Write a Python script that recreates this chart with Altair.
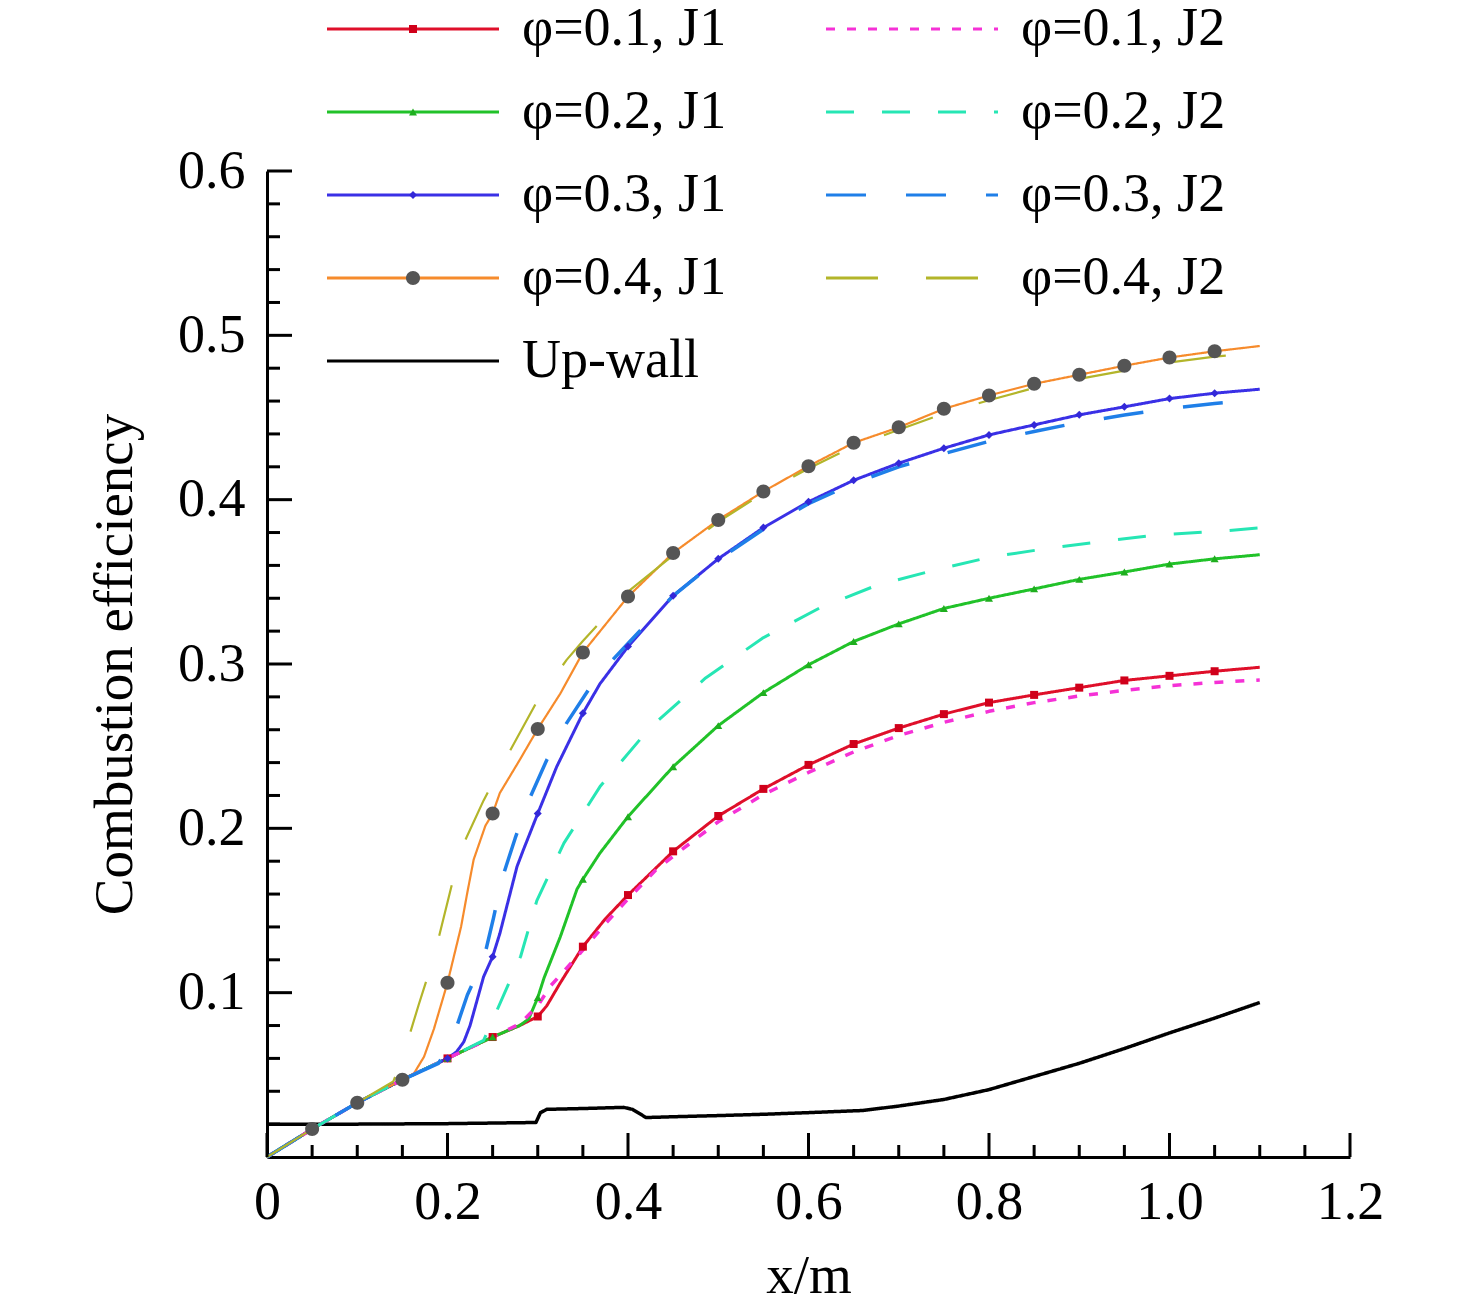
import altair as alt
import pandas as pd

FONT = "Liberation Serif"
FS_TICK = 54
FS_TITLE = 55
FS_LEG = 54
W, H = 1083, 986

# ---------------- data ----------------
names = ["\u03c6=0.1, J1", "\u03c6=0.2, J1", "\u03c6=0.3, J1", "\u03c6=0.4, J1", "Up-wall",
         "\u03c6=0.1, J2", "\u03c6=0.2, J2", "\u03c6=0.3, J2", "\u03c6=0.4, J2"]

x_p1_j1 = [0, 0.05, 0.1, 0.15, 0.2, 0.25, 0.28, 0.3, 0.31, 0.325, 0.35, 0.375, 0.4,
           0.45, 0.5, 0.55, 0.6, 0.65, 0.7, 0.75, 0.8, 0.85, 0.9, 0.95, 1.0, 1.05, 1.1]
y_p1_j1 = [0, 0.017, 0.033, 0.047, 0.060, 0.073, 0.080, 0.0855, 0.092, 0.106, 0.128, 0.145, 0.1594,
           0.186, 0.2075, 0.224, 0.2386, 0.2513, 0.261, 0.2695, 0.2765, 0.2812, 0.2856, 0.290, 0.2928, 0.2956, 0.2980]

x_p1_j2 = [0, 0.05, 0.1, 0.15, 0.2, 0.25, 0.28, 0.3, 0.314, 0.347, 0.375, 0.4, 0.431,
           0.45, 0.5, 0.55, 0.6, 0.65, 0.7, 0.75, 0.8, 0.85, 0.9, 0.95, 1.0, 1.05, 1.1]
y_p1_j2 = [0, 0.017, 0.033, 0.047, 0.060, 0.073, 0.081, 0.092, 0.104, 0.124, 0.142, 0.157, 0.1747,
           0.183, 0.204, 0.2205, 0.234, 0.2465, 0.2565, 0.2645, 0.2712, 0.2765, 0.2805, 0.284, 0.2868, 0.2888, 0.2903]

x_p2_j1 = [0, 0.05, 0.1, 0.15, 0.2, 0.25, 0.28, 0.29, 0.3, 0.307, 0.325, 0.3435, 0.35, 0.369, 0.4,
           0.45, 0.5, 0.55, 0.6, 0.65, 0.7, 0.75, 0.8, 0.85, 0.9, 0.95, 1.0, 1.05, 1.1]
y_p2_j1 = [0, 0.017, 0.033, 0.047, 0.060, 0.073, 0.080, 0.084, 0.097, 0.109, 0.134, 0.163, 0.169, 0.185, 0.2071,
           0.2375, 0.2625, 0.2826, 0.2995, 0.3137, 0.3244, 0.3338, 0.340, 0.3457, 0.3515, 0.356, 0.3608, 0.3640, 0.3665]

x_p2_j2 = [0, 0.05, 0.1, 0.15, 0.2, 0.24, 0.255, 0.281, 0.299, 0.329, 0.369, 0.424,
           0.486, 0.549, 0.612, 0.676, 0.739, 0.801, 0.861, 0.924, 0.988, 1.051, 1.1]
y_p2_j2 = [0, 0.017, 0.033, 0.047, 0.060, 0.071, 0.0895, 0.122, 0.156, 0.191, 0.2254, 0.261,
           0.2915, 0.3157, 0.334, 0.348, 0.357, 0.365, 0.370, 0.3745, 0.3786, 0.3806, 0.3828]

x_p3_j1 = [0, 0.05, 0.1, 0.15, 0.2, 0.21, 0.218, 0.225, 0.24, 0.25, 0.258, 0.277, 0.284, 0.3, 0.321, 0.35,
           0.369, 0.4, 0.45, 0.5, 0.55, 0.6, 0.65, 0.7, 0.75, 0.8, 0.85, 0.9, 0.95, 1.0, 1.05, 1.1]
y_p3_j1 = [0, 0.017, 0.033, 0.047, 0.060, 0.064, 0.070, 0.080, 0.1097, 0.1219, 0.136, 0.1767, 0.1868, 0.209,
           0.2375, 0.270, 0.288, 0.3106, 0.3415, 0.364, 0.383, 0.3987, 0.4118, 0.4222, 0.4313, 0.4394,
           0.4455, 0.4516, 0.4565, 0.4615, 0.4648, 0.4672]

x_p3_j2 = [0, 0.05, 0.1, 0.15, 0.19, 0.205, 0.222, 0.24, 0.251, 0.26, 0.275, 0.29, 0.31, 0.332, 0.363,
           0.383, 0.4, 0.45, 0.5, 0.55, 0.6, 0.65, 0.7, 0.75, 0.8, 0.85, 0.9, 0.95, 1.0, 1.05, 1.1]
y_p3_j2 = [0, 0.017, 0.033, 0.047, 0.057, 0.071, 0.0986, 0.120, 0.1455, 0.1686, 0.194, 0.217, 0.2416,
           0.264, 0.290, 0.3025, 0.3125, 0.3415, 0.3635, 0.382, 0.3975, 0.410, 0.420, 0.428, 0.4355,
           0.4415, 0.447, 0.4515, 0.4555, 0.4585, 0.4610]

x_p4_j1 = [0, 0.05, 0.1, 0.15, 0.163, 0.174, 0.185, 0.2, 0.215, 0.222, 0.229, 0.242, 0.25, 0.258, 0.28,
           0.3, 0.325, 0.35, 0.4, 0.45, 0.5, 0.55, 0.6, 0.65, 0.7, 0.75, 0.8, 0.85, 0.9, 0.95, 1.0, 1.05, 1.1]
y_p4_j1 = [0, 0.017, 0.033, 0.047, 0.051, 0.061, 0.078, 0.106, 0.140, 0.161, 0.181, 0.2016, 0.209, 0.2215,
           0.2416, 0.2605, 0.282, 0.307, 0.341, 0.3676, 0.3877, 0.405, 0.4204, 0.4346, 0.444, 0.4553,
           0.4634, 0.4705, 0.476, 0.4815, 0.4865, 0.4903, 0.4935]

x_p4_j2 = [0, 0.05, 0.1, 0.14, 0.15, 0.168, 0.185, 0.2, 0.214, 0.24, 0.268, 0.3, 0.332, 0.35, 0.4, 0.443,
           0.5, 0.55, 0.6, 0.65, 0.7, 0.75, 0.8, 0.85, 0.9, 0.95, 1.0, 1.05, 1.1]
y_p4_j2 = [0, 0.017, 0.033, 0.046, 0.060, 0.0925, 0.1217, 0.155, 0.186, 0.217, 0.246, 0.278, 0.3025,
           0.314, 0.344, 0.363, 0.3865, 0.404, 0.419, 0.4325, 0.4425, 0.4525, 0.4605, 0.468, 0.4735,
           0.4785, 0.4835, 0.487, 0.4895]

x_wall = [0, 0.1, 0.2, 0.298, 0.303, 0.31, 0.35, 0.395, 0.405, 0.42, 0.45, 0.5, 0.55, 0.6, 0.66,
          0.7, 0.75, 0.8, 0.85, 0.9, 0.95, 1.0, 1.05, 1.1]
y_wall = [0.020, 0.020, 0.0203, 0.021, 0.027, 0.029, 0.0295, 0.0302, 0.029, 0.0240, 0.0245, 0.0252,
          0.026, 0.027, 0.0283, 0.031, 0.035, 0.041, 0.049, 0.057, 0.066, 0.0755, 0.0845, 0.094]

x_major = [0, 0.2, 0.4, 0.6, 0.8, 1.0, 1.2]
x_minor = [0.05, 0.1, 0.15, 0.25, 0.3, 0.35, 0.45, 0.5, 0.55, 0.65, 0.7, 0.75,
           0.85, 0.9, 0.95, 1.05, 1.1, 1.15]
y_major = [0.1, 0.2, 0.3, 0.4, 0.5, 0.6]
y_minor = [0.02, 0.04, 0.06, 0.08, 0.12, 0.14, 0.16, 0.18, 0.22, 0.24, 0.26, 0.28,
           0.32, 0.34, 0.36, 0.38, 0.42, 0.44, 0.46, 0.48, 0.52, 0.54, 0.56, 0.58]

# ---------------- styles (same order as names) ----------------
line_colors = ["#df0f2a", "#21c229", "#3a30e6", "#f68b2c", "#000000",
               "#f531d6", "#26e6b4", "#1f7fe8", "#b3b52a"]
line_dashes = [[1, 0], [1, 0], [1, 0], [1, 0], [1, 0], [9, 12], [28, 28], [40, 40], [52, 48]]
line_widths = [3, 3, 3, 2.2, 3.5, 3.5, 3, 3.5, 2.2]
BIG_CIRCLE = "M-1.75,0A1.75,1.75,0,1,1,1.75,0A1.75,1.75,0,1,1,-1.75,0Z"
mk_shapes = ["square", "triangle-up", "diamond", BIG_CIRCLE, "circle",
             "circle", "circle", "circle", "circle"]
mk_fills = ["#d0001a", "#1fae1f", "#3328d8", "#555555", "transparent",
            "transparent", "transparent", "transparent", "transparent"]
MK_SIZE = 64

series_xy = {
    names[0]: (x_p1_j1, y_p1_j1), names[1]: (x_p2_j1, y_p2_j1),
    names[2]: (x_p3_j1, y_p3_j1), names[3]: (x_p4_j1, y_p4_j1),
    names[4]: (x_wall, y_wall),
    names[5]: (x_p1_j2, y_p1_j2), names[6]: (x_p2_j2, y_p2_j2),
    names[7]: (x_p3_j2, y_p3_j2), names[8]: (x_p4_j2, y_p4_j2),
}
draw_order = [4, 0, 1, 2, 3, 5, 6, 7, 8]

rows = []
for nm in names:
    xs, ys = series_xy[nm]
    for a, b in zip(xs, ys):
        rows.append({"x": a, "y": b, "series": nm})
df = pd.DataFrame(rows)

mkeys = [n + "#" for n in names]
mrows = []
for nm in names[:4]:
    xs, ys = series_xy[nm]
    for a, b in zip(xs, ys):
        k = a * 20
        if 0 < a <= 1.051 and abs(k - round(k)) < 1e-6:
            mrows.append({"x": a, "y": b, "mkey": nm + "#"})
mdf = pd.DataFrame(mrows)

xscale = alt.Scale(domain=[0, 1.2], nice=False, zero=False)
yscale = alt.Scale(domain=[0, 0.6], nice=False, zero=False)

LEG_X, LEG_Y = 60, -169
L = 172
sym_size = (2 * (L / 2) / 5) ** 2  # custom path M-5,0H5 scaled by sqrt(size)/2
SYM_OFF = L / 2 - FS_LEG / 2
LAB_OFF = (L + 23) - FS_LEG - SYM_OFF

common_leg = dict(orient="none", legendX=LEG_X, legendY=LEG_Y, columns=2,
                  rowPadding=83 - FS_LEG, columnPadding=93, labelFont=FONT, labelFontSize=FS_LEG,
                  labelColor="black", labelLimit=600, symbolOffset=SYM_OFF,
                  labelOffset=LAB_OFF)

line_leg = alt.Legend(symbolType="M-5,0H5", symbolSize=sym_size, symbolStrokeWidth=3,
                      **common_leg)
mark_leg = alt.Legend(labelExpr="''", symbolStrokeWidth=0, symbolSize=MK_SIZE, **common_leg)

x_axis = alt.Axis(values=x_major, labelExpr="datum.value == 0 ? '0' : format(datum.value, '.1f')",
                  ticks=False, grid=False, domainWidth=3, domainColor="black",
                  labelFont=FONT, labelFontSize=FS_TICK, labelColor="black", labelPadding=18,
                  labelFlush=False, labelOverlap=False,
                  title="x/m", titleFont=FONT, titleFontSize=FS_TITLE, titleFontWeight="normal",
                  titleColor="black", titleBaseline="alphabetic", titleAlign="center",
                  titleX=W / 2, titleY=135)
y_axis = alt.Axis(values=y_major, format=".1f", ticks=False, grid=False, domainWidth=3,
                  domainColor="black", labelFont=FONT, labelFontSize=FS_TICK, labelColor="black",
                  labelPadding=22, labelFlush=False, labelOverlap=False,
                  title="Combustion efficiency", titleFont=FONT, titleFontSize=FS_TITLE,
                  titleFontWeight="normal", titleColor="black", titleAngle=270,
                  titleBaseline="alphabetic", titleAlign="center", titleX=-136, titleY=H / 2)

X = alt.X("x:Q", scale=xscale, axis=x_axis)
Y = alt.Y("y:Q", scale=yscale, axis=y_axis)

layers = []
for i in draw_order:
    nm = names[i]
    layers.append(
        alt.Chart(df).transform_filter(alt.datum.series == nm)
        .mark_line(strokeWidth=line_widths[i], strokeCap="butt", strokeJoin="round")
        .encode(
            x=X, y=Y,
            color=alt.Color("series:N", scale=alt.Scale(domain=names, range=line_colors),
                            legend=line_leg, title=None),
            strokeDash=alt.StrokeDash("series:N", scale=alt.Scale(domain=names, range=line_dashes),
                                      legend=line_leg, title=None),
        )
    )

layers.append(
    alt.Chart(mdf).mark_point(filled=True, opacity=1, strokeWidth=0, size=MK_SIZE)
    .encode(
        x=X, y=Y,
        fill=alt.Fill("mkey:N", scale=alt.Scale(domain=mkeys, range=mk_fills),
                      legend=mark_leg, title=None),
        shape=alt.Shape("mkey:N", scale=alt.Scale(domain=mkeys, range=mk_shapes),
                        legend=mark_leg, title=None),
    )
)

def yticks(vals, length):
    return alt.Chart(pd.DataFrame({"y": vals})).mark_rule(color="black", strokeWidth=3).encode(
        y=Y, x=alt.value(0), x2=alt.value(length))

def xticks(vals, length):
    return alt.Chart(pd.DataFrame({"x": vals})).mark_rule(color="black", strokeWidth=3).encode(
        x=X, y=alt.value(H), y2=alt.value(H - length))

layers += [yticks(y_major, 25), yticks(y_minor, 13), xticks(x_major, 24), xticks(x_minor, 12)]

chart = alt.layer(*layers).properties(
    width=W, height=H,
    padding={"left": 259, "top": 163, "right": 118, "bottom": 147},
    autosize=alt.AutoSizeParams(type="none"),
    background="white",
).configure_view(strokeWidth=0)

chart.save("out.html", embed_options={"renderer": "svg", "actions": False})
